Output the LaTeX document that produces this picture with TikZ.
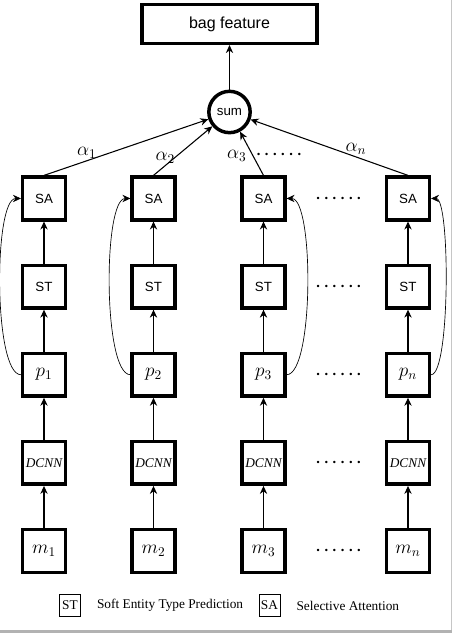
\documentclass[tikz,border=0pt]{standalone}
\usepackage{fontspec}
\setmainfont{Liberation Serif}
\setsansfont{Liberation Sans}
\usetikzlibrary{positioning, arrows.meta, calc}

\begin{document}
\begin{tikzpicture}[
  x=0.75pt, y=0.75pt,
  box/.style={draw, line width=2.6pt, minimum width=32pt, minimum height=32pt,
    inner sep=1pt, font=#1},
  box/.default=\sffamily,
  flow/.style={-{Stealth[length=6pt, width=5.5pt]}, line width=0.8pt},
  back/.style={-{Stealth[length=6pt, width=5.5pt]}, line width=0.5pt, looseness=0.4},
  key/.style={draw, line width=0.75pt, minimum width=15.75pt, minimum height=16.5pt,
    inner sep=1pt},
  dots/.style={font=\large\boldmath},
  wgt/.style={font=\Large, inner sep=1.5pt},
  node distance=31.5pt
]
\useasboundingbox (0,0) rectangle (453,633);

% frame
\draw[gray!45, line width=0.75pt] (451.5,633) -- (451.5,1.5);
\draw[gray!60, line width=1.5pt] (0,1.5) -- (452.25,1.5);

% Top: bag feature and sum
\node[box=\sffamily\large, minimum width=131pt, minimum height=29pt] (bag) at (229.5, 609)
  {bag feature};
\node[box, circle, minimum size=31pt, inner sep=0pt] (sum) at (229.5, 521) {sum};
\draw[flow] (sum) -- (bag);

% Column 1
\node[box=\Large] (m1) at (44, 82) {$m_1$};
\node[box=\rmfamily\itshape, above=of m1] (d1) {DCNN};
\node[box=\Large, above=of d1] (p1) {$p_1$};
\node[box, above=of p1] (st1) {ST};
\node[box, above=of st1] (sa1) {SA};
\draw[flow] (m1) -- (d1);
\draw[flow] (d1) -- (p1);
\draw[flow] (p1) -- (st1);
\draw[flow] (st1) -- (sa1);
\draw[back] (p1.west) to[out=180, in=180] (sa1.west);

% Column 2
\node[box=\Large] (m2) at (153.5, 82) {$m_2$};
\node[box=\rmfamily\itshape, above=of m2] (d2) {DCNN};
\node[box=\Large, above=of d2] (p2) {$p_2$};
\node[box, above=of p2] (st2) {ST};
\node[box, above=of st2] (sa2) {SA};
\draw[flow] (m2) -- (d2);
\draw[flow] (d2) -- (p2);
\draw[flow] (p2) -- (st2);
\draw[flow] (st2) -- (sa2);
\draw[back] (p2.west) to[out=180, in=180] (sa2.west);

% Column 3
\node[box=\Large] (m3) at (263.5, 82) {$m_3$};
\node[box=\rmfamily\itshape, above=of m3] (d3) {DCNN};
\node[box=\Large, above=of d3] (p3) {$p_3$};
\node[box, above=of p3] (st3) {ST};
\node[box, above=of st3] (sa3) {SA};
\draw[flow] (m3) -- (d3);
\draw[flow] (d3) -- (p3);
\draw[flow] (p3) -- (st3);
\draw[flow] (st3) -- (sa3);
\draw[back] (p3.east) to[out=0, in=0] (sa3.east);

% Column n
\node[box=\Large] (mn) at (408, 82) {$m_n$};
\node[box=\rmfamily\itshape, above=of mn] (dn) {DCNN};
\node[box=\Large, above=of dn] (pn) {$p_n$};
\node[box, above=of pn] (stn) {ST};
\node[box, above=of stn] (san) {SA};
\draw[flow] (mn) -- (dn);
\draw[flow] (dn) -- (pn);
\draw[flow] (pn) -- (stn);
\draw[flow] (stn) -- (san);
\draw[back, looseness=0.28] (pn.east) to[out=0, in=0] (san.east);

% dots between column 3 and column n
\node[dots] (dm) at ($(m3)!0.52!(mn)$) {$\cdots\cdots$};
\node[dots] (dd) at ($(d3)!0.52!(dn)$) {$\cdots\cdots$};
\node[dots] (dp) at ($(p3)!0.52!(pn)$) {$\cdots\cdots$};
\node[dots] (dst) at ($(st3)!0.52!(stn)$) {$\cdots\cdots$};
\node[dots] (dsa) at ($(sa3)!0.52!(san)$) {$\cdots\cdots$};

% attention weights into sum
\draw[flow] (sa1.north) -- (sum) node[wgt, pos=0.26, above] {$\alpha_1$};
\draw[flow] (sa2.north) -- (sum) node[wgt, pos=0.2, above] {$\alpha_2$};
\draw[flow] (sa3.north) -- (sum) node[wgt, pos=0.45, left=3pt] {$\alpha_3$};
\draw[flow] (san.north) -- (sum) node[wgt, pos=0.33, above] {$\alpha_n$};
\node[dots] (dalpha) at (279, 478) {$\cdots\cdots$};

% Legend
\node[key] (keyst) at (70, 27.5) {ST};
\node[right=8.5pt of keyst] (txtst) {Soft Entity Type Prediction};
\node[key, right=8pt of txtst] (keysa) {SA};
\node[right=8.5pt of keysa] (txtsa) {Selective Attention};

\end{tikzpicture}
\end{document}
